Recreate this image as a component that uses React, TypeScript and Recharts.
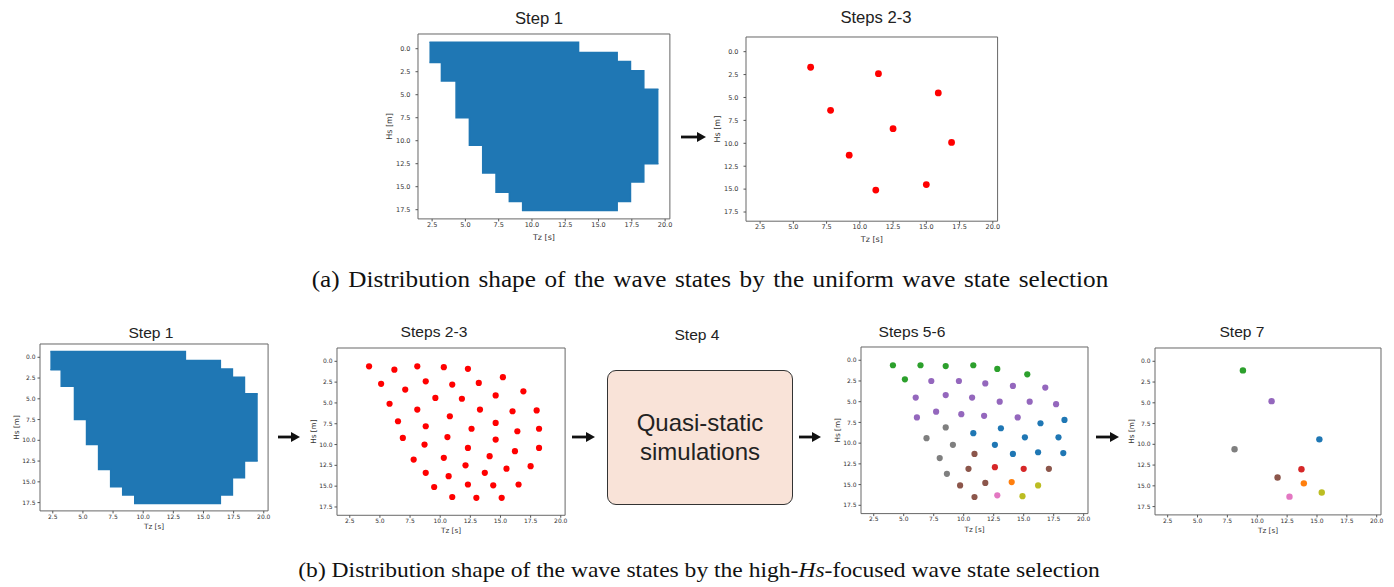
import React from "react";
import {
  ComposedChart,
  ScatterChart,
  Scatter,
  Area,
  XAxis,
  YAxis,
  ReferenceArea,
} from "recharts";

// Step 1 sea-state cloud, read as a staircase outline (Tz breakpoints, Hs top / bottom)
const regionTz = [2.3, 3.2, 4.3, 5.3, 6.3, 7.3, 8.3, 9.3, 13.5, 16.4, 17.4, 18.4, 19.5];
const regionTop = [-0.7, -0.7, -0.7, -0.7, -0.7, -0.7, -0.7, -0.7, 0.4, 1.4, 2.4, 4.4, 4.4];
const regionBottom = [1.5, 3.5, 7.5, 10.5, 13.5, 15.6, 16.6, 17.6, 17.6, 16.6, 14.5, 12.5, 12.5];

// (a) uniform selection, steps 2-3
const uniformTz = [6.3, 11.4, 15.9, 7.8, 12.5, 16.9, 9.2, 11.2, 15.0];
const uniformHs = [1.7, 2.4, 4.5, 6.4, 8.4, 9.9, 11.3, 15.1, 14.5];

// (b) high-Hs focused selection, steps 2-3
const focusedTz = [
  4.1, 6.2, 8.1, 10.3, 12.3, 15.2, 5.1, 8.8, 11.0, 13.2, 16.9, 7.1, 14.6, 9.6, 11.8, 5.8, 8.1,
  13.3, 16.0, 18.0, 6.5, 10.8, 8.8, 14.6, 12.6, 16.4, 18.2, 6.9, 10.6, 14.6, 8.7, 12.3, 16.2,
  18.2, 14.1, 10.3, 7.8, 12.1, 15.5, 17.5, 8.8, 13.7, 10.7, 12.3, 14.4, 16.5, 9.5, 11.0, 13.0,
  15.1,
];
const focusedHs = [
  0.6, 1.0, 0.6, 0.7, 0.9, 1.9, 2.7, 2.4, 2.8, 2.6, 3.6, 3.4, 4.1, 4.4, 4.5, 5.1, 5.8, 5.8, 6.0,
  5.9, 7.2, 6.6, 7.8, 7.4, 8.1, 8.4, 8.1, 9.2, 9.1, 9.4, 10.0, 10.4, 10.8, 10.4, 11.4, 11.6,
  11.8, 12.5, 12.9, 12.6, 13.4, 13.4, 13.8, 14.8, 14.9, 14.8, 15.1, 16.3, 16.4, 16.4,
];

// steps 5-6: clusters (matplotlib colour order C0..C8), [Tz, Hs]
const cluster0 = [[18.4, 7.2], [16.4, 7.6], [13.1, 8.2], [10.8, 8.8], [15.1, 9.3], [17.9, 9.3], [12.6, 10.2], [14.1, 11.3], [16.2, 11.1], [18.3, 11.2]];
const cluster1 = [[14.0, 14.7]];
const cluster2 = [[4.1, 0.6], [6.4, 0.6], [8.5, 0.7], [10.8, 0.6], [12.8, 1.05], [15.3, 1.7], [5.1, 2.3]];
const cluster3 = [[12.6, 12.9], [15.0, 13.1]];
const cluster4 = [
  [7.3, 2.5], [9.6, 2.5], [11.8, 2.8], [14.1, 3.1], [16.8, 3.3], [6.0, 4.5], [8.5, 4.2], [10.7, 4.5],
  [13.0, 5.0], [15.5, 5.0], [17.7, 5.3], [7.7, 6.2], [9.8, 6.5], [11.7, 6.7], [14.5, 6.9], [6.1, 6.9],
];
const cluster5 = [[10.9, 11.3], [10.4, 13.1], [17.1, 13.1], [11.8, 14.8], [9.7, 15.1], [10.9, 16.5]];
const cluster6 = [[12.8, 16.3]];
const cluster7 = [[8.5, 8.1], [6.9, 9.4], [9.1, 10.2], [8.0, 11.8], [8.6, 13.7]];
const cluster8 = [[16.2, 15.1], [14.9, 16.4]];
const clusters = [cluster0, cluster1, cluster2, cluster3, cluster4, cluster5, cluster6, cluster7, cluster8];

// step 7: one representative wave state per cluster (C0..C8)
const repTz = [15.2, 13.9, 8.8, 13.7, 11.2, 11.7, 12.7, 8.1, 15.4];
const repHs = [9.4, 14.7, 1.1, 13.0, 4.8, 14.0, 16.3, 10.6, 15.8];

const TZ_TICKS = [2.5, 5, 7.5, 10, 12.5, 15, 17.5, 20];
const HS_TICKS = [0, 2.5, 5, 7.5, 10, 12.5, 15, 17.5];
const X_DOMAIN: [number, number] = [1.44, 20.36];
const Y_DOMAIN: [number, number] = [-1.6, 18.5];

const TAB10 = ["#1f77b4", "#ff7f0e", "#2ca02c", "#d62728", "#9467bd", "#8c564b", "#e377c2", "#7f7f7f", "#bcbd22"];

type Frame = { x: number; y: number; w: number; h: number };
type Sty = { tick: number; label: number; xLab: number; yLab: number; yMargin: number; xMargin: number };

const BIG: Sty = { tick: 6.5, label: 8, xLab: 9, yLab: 21, yMargin: 5, xMargin: 1 };
const SMALL: Sty = { tick: 6, label: 7.3, xLab: 12, yLab: 26, yMargin: 2, xMargin: 1 };

const fmt = (v: number) => v.toFixed(1);
const mpl = "DejaVu Sans";

function axes(s: Sty, withY: boolean) {
  return [
    <XAxis
      key="x"
      xAxisId={0}
      type="number"
      dataKey="tz"
      domain={X_DOMAIN}
      ticks={TZ_TICKS}
      allowDataOverflow
      height={30}
      tickSize={2.5}
      tickMargin={s.xMargin}
      tickFormatter={fmt}
      axisLine={false}
      tickLine={{ stroke: "#555" }}
      tick={{ fontSize: s.tick, fill: "#333", fontFamily: mpl }}
      label={{ value: "Tz [s]", position: "insideBottom", offset: s.xLab, style: { fontSize: s.label, fill: "#333", fontFamily: mpl } }}
    />,
    <YAxis
      key="y"
      yAxisId={0}
      type="number"
      dataKey={withY ? "hs" : undefined}
      reversed
      domain={Y_DOMAIN}
      ticks={HS_TICKS}
      allowDataOverflow
      width={50}
      tickSize={2.5}
      tickMargin={s.yMargin}
      tickFormatter={fmt}
      axisLine={false}
      tickLine={{ stroke: "#555" }}
      tick={{ fontSize: s.tick, fill: "#333", fontFamily: mpl }}
      label={{ value: "Hs [m]", angle: -90, position: "insideLeft", offset: s.yLab, style: { textAnchor: "middle", fontSize: s.label, fill: "#333", fontFamily: mpl } }}
    />,
  ];
}

const frameBox = (
  <ReferenceArea
    key="frame"
    x1={X_DOMAIN[0]}
    x2={X_DOMAIN[1]}
    y1={Y_DOMAIN[0]}
    y2={Y_DOMAIN[1]}
    fill="none"
    fillOpacity={0}
    stroke="#666"
    strokeWidth={1}
    ifOverflow="visible"
  />
);

const margin = { top: 10, right: 10, bottom: 0, left: 0 };
const place = (f: Frame): React.CSSProperties => ({ position: "absolute", left: f.x - 50, top: f.y - 10 });

function RegionPanel({ frame, s }: { frame: Frame; s: Sty }) {
  const data = regionTz.map((tz, i) => ({ tz, hs: [regionTop[i], regionBottom[i]] }));
  return (
    <div style={place(frame)}>
      <ComposedChart width={frame.w + 60} height={frame.h + 40} data={data} margin={margin}>
        {axes(s, false)}
        <Area
          dataKey="hs"
          type="stepAfter"
          stroke="#1f77b4"
          strokeWidth={1.5}
          fill="#1f77b4"
          fillOpacity={1}
          dot={false}
          activeDot={false}
          isAnimationActive={false}
        />
        {frameBox}
      </ComposedChart>
    </div>
  );
}

type Series = { data: { tz: number; hs: number }[]; color: string; r: number };

function PointsPanel({ frame, s, series }: { frame: Frame; s: Sty; series: Series[] }) {
  return (
    <div style={place(frame)}>
      <ScatterChart width={frame.w + 60} height={frame.h + 40} margin={margin}>
        {axes(s, true)}
        {series.map((se, i) => (
          <Scatter
            key={i}
            data={se.data}
            fill={se.color}
            isAnimationActive={false}
            shape={(p: any) => <circle cx={p.cx} cy={p.cy} r={se.r} fill={se.color} />}
          />
        ))}
        {frameBox}
      </ScatterChart>
    </div>
  );
}

function Title({ x, y, size, text }: { x: number; y: number; size: number; text: string }) {
  return (
    <div
      style={{
        position: "absolute",
        left: x,
        top: y,
        transform: "translate(-50%, -50%) scaleX(1.04)",
        fontFamily: "Liberation Sans, Arial, sans-serif",
        fontSize: size,
        lineHeight: 1,
        color: "#222",
        whiteSpace: "nowrap",
      }}
    >
      {text}
    </div>
  );
}

function Arrow({ x1, x2, y }: { x1: number; x2: number; y: number }) {
  const w = x2 - x1;
  return (
    <svg style={{ position: "absolute", left: x1, top: y - 6 }} width={w} height={12}>
      <line x1={0} y1={6} x2={w - 7} y2={6} stroke="#111" strokeWidth={2.8} />
      <polygon points={`${w - 9},1 ${w},6 ${w - 9},11`} fill="#111" />
    </svg>
  );
}

const A1: Frame = { x: 417.6, y: 34.3, w: 251.9, h: 184.9 };
const A2: Frame = { x: 745.9, y: 37, w: 251.6, h: 184.2 };
const B1: Frame = { x: 39.5, y: 344.4, w: 228.1, h: 166.9 };
const B2: Frame = { x: 337.2, y: 347.7, w: 228.1, h: 167.3 };
const B5: Frame = { x: 860.6, y: 346.7, w: 227, h: 166.6 };
const B7: Frame = { x: 1155, y: 347.7, w: 226, h: 166.9 };

const caption: React.CSSProperties = {
  position: "absolute",
  fontFamily: "Liberation Serif, Times New Roman, serif",
  fontSize: 22,
  lineHeight: 1,
  color: "#111",
  whiteSpace: "nowrap",
};

export default function App() {
  const uniform = uniformTz.map((tz, i) => ({ tz, hs: uniformHs[i] }));
  const focused = focusedTz.map((tz, i) => ({ tz, hs: focusedHs[i] }));
  const clusterSeries: Series[] = clusters.map((c, k) => ({
    data: c.map(([tz, hs]) => ({ tz, hs })),
    color: TAB10[k],
    r: 3.1,
  }));
  const repSeries: Series[] = repTz.map((tz, k) => ({ data: [{ tz, hs: repHs[k] }], color: TAB10[k], r: 3.2 }));

  return (
    <div style={{ position: "absolute", left: 0, top: 0, width: 1394, height: 587, background: "#fff", overflow: "hidden" }}>
      {/* (a) */}
      <Title x={539} y={19} size={16} text="Step 1" />
      <Title x={876} y={18} size={16} text="Steps 2-3" />
      <RegionPanel frame={A1} s={BIG} />
      <PointsPanel frame={A2} s={BIG} series={[{ data: uniform, color: "#ff0000", r: 3.4 }]} />
      <Arrow x1={681} x2={706} y={137} />
      <div style={{ ...caption, fontSize: 22.5, left: 710, top: 280, transform: "translate(-50%, -50%) scaleX(1.12)", wordSpacing: 2 }}>
        (a) Distribution shape of the wave states by the uniform wave state selection
      </div>

      {/* (b) */}
      <Title x={151} y={332} size={15} text="Step 1" />
      <Title x={434} y={331} size={15} text="Steps 2-3" />
      <Title x={697} y={334} size={15} text="Step 4" />
      <Title x={912} y={331} size={15} text="Steps 5-6" />
      <Title x={1242} y={331} size={15} text="Step 7" />
      <RegionPanel frame={B1} s={SMALL} />
      <PointsPanel frame={B2} s={SMALL} series={[{ data: focused, color: "#ff0000", r: 3.1 }]} />
      <div
        style={{
          position: "absolute",
          left: 607,
          top: 369.5,
          width: 186,
          height: 135,
          boxSizing: "border-box",
          border: "1.5px solid #333",
          borderRadius: 9,
          background: "#f9e3d8",
          display: "flex",
          flexDirection: "column",
          alignItems: "center",
          justifyContent: "center",
          fontFamily: "Liberation Sans, Arial, sans-serif",
          fontSize: 24,
          lineHeight: "29px",
          color: "#222",
        }}
      >
        <div>Quasi-static</div>
        <div>simulations</div>
      </div>
      <PointsPanel frame={B5} s={SMALL} series={clusterSeries} />
      <PointsPanel frame={B7} s={SMALL} series={repSeries} />
      <Arrow x1={278} x2={300} y={437} />
      <Arrow x1={572} x2={595} y={437} />
      <Arrow x1={799} x2={821} y={437} />
      <Arrow x1={1096} x2={1119} y={437} />
      <div style={{ ...caption, left: 699, top: 570, transform: "translate(-50%, -50%) scaleX(1.07)" }}>
        (b) Distribution shape of the wave states by the high-<i>Hs</i>-focused wave state selection
      </div>
    </div>
  );
}
